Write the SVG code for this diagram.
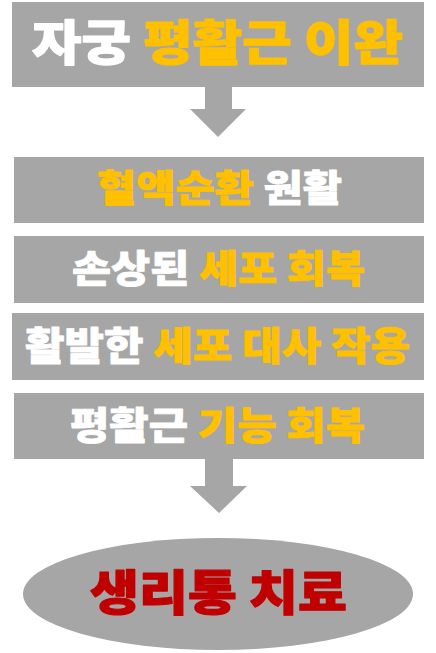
<svg xmlns="http://www.w3.org/2000/svg" width="436" height="653" viewBox="0 0 436 653">
<style>
.box{fill:#A6A6A6}
.arrow{fill:#A6A6A6}
text{font-family:"Noto Sans CJK KR","Noto Sans",sans-serif;font-weight:900;stroke-width:0.8;stroke-linejoin:round}
.big{stroke-width:1.2}
.w{fill:#FFFFFF;stroke:#FFFFFF}
.y{fill:#FFC000;stroke:#FFC000}
.r{fill:#C00000;stroke:#C00000}
</style>
<rect width="436" height="653" fill="#FFFFFF"/>
<g id="connectors">
<polygon class="arrow" points="205,87 232,87 232,109 246,109 218,137 190,109 205,109"/>
<polygon class="arrow" points="205,459 233,459 233,486 247,486 219,513 190,486 205,486"/>
</g>
<g id="node1">
<rect class="box" x="12" y="2" width="412" height="85"/>
<text class="big" x="32" y="60" font-size="48" textLength="371" lengthAdjust="spacingAndGlyphs"><tspan class="w">자궁 </tspan><tspan class="y">평활근 이완</tspan></text>
</g>
<g id="node2">
<rect class="box" x="14" y="157" width="410" height="66"/>
<text x="97" y="202" font-size="37" textLength="245" lengthAdjust="spacingAndGlyphs"><tspan class="y">혈액순환 </tspan><tspan class="w">원활</tspan></text>
</g>
<g id="node3">
<rect class="box" x="14" y="236" width="410" height="67"/>
<text x="72" y="282" font-size="38" textLength="293" lengthAdjust="spacingAndGlyphs"><tspan class="w">손상된 </tspan><tspan class="y">세포 회복</tspan></text>
</g>
<g id="node4">
<rect class="box" x="12" y="313" width="412" height="67"/>
<text x="25" y="360" font-size="39" textLength="385" lengthAdjust="spacingAndGlyphs"><tspan class="w">활발한 </tspan><tspan class="y">세포 대사 작용</tspan></text>
</g>
<g id="node5">
<rect class="box" x="14" y="393" width="410" height="66"/>
<text x="70" y="439" font-size="38" textLength="295" lengthAdjust="spacingAndGlyphs"><tspan class="w">평활근 </tspan><tspan class="y">기능 회복</tspan></text>
</g>
<g id="node6">
<ellipse class="box" cx="218" cy="594" rx="195" ry="56"/>
<text x="90" y="610" font-size="48" textLength="257" lengthAdjust="spacingAndGlyphs" class="r big">생리통 치료</text>
</g>
</svg>
